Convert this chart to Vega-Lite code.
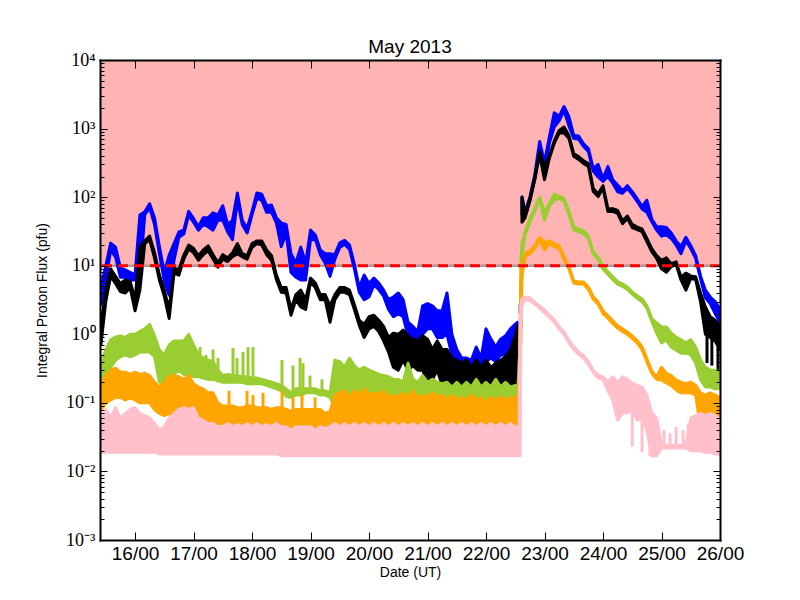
{
  "$schema": "https://vega.github.io/schema/vega-lite/v6.json",
  "width": 620,
  "height": 480,
  "autosize": {"type": "none"},
  "padding": {"left": 100, "top": 60, "right": 80, "bottom": 60},
  "background": "white",
  "title": {"text": "May 2013", "offset": -6},
  "datasets": {
    "ks": [
      {"t": "2013-05-25T18:40", "lo": 0.38, "hi": 1.5},
      {"t": "2013-05-25T20:40", "lo": 0.35, "hi": 1.3},
      {"t": "2013-05-25T23:10", "lo": 0.27, "hi": 1.0}
    ],
    "gs": [
      {"t": "2013-05-17T02:40", "lo": 0.24, "hi": 0.65},
      {"t": "2013-05-17T05:06", "lo": 0.23, "hi": 0.5},
      {"t": "2013-05-17T08:00", "lo": 0.22, "hi": 0.6},
      {"t": "2013-05-17T10:03", "lo": 0.21, "hi": 0.45},
      {"t": "2013-05-17T16:12", "lo": 0.2, "hi": 0.63},
      {"t": "2013-05-17T17:51", "lo": 0.2, "hi": 0.45},
      {"t": "2013-05-17T20:18", "lo": 0.2, "hi": 0.55},
      {"t": "2013-05-17T22:22", "lo": 0.19, "hi": 0.65},
      {"t": "2013-05-18T00:24", "lo": 0.19, "hi": 0.65},
      {"t": "2013-05-18T12:18", "lo": 0.15, "hi": 0.42},
      {"t": "2013-05-18T16:49", "lo": 0.12, "hi": 0.35},
      {"t": "2013-05-18T19:42", "lo": 0.13, "hi": 0.45},
      {"t": "2013-05-18T20:55", "lo": 0.13, "hi": 0.38},
      {"t": "2013-05-18T23:48", "lo": 0.14, "hi": 0.25},
      {"t": "2013-05-19T04:43", "lo": 0.13, "hi": 0.22}
    ],
    "os": [
      {"t": "2013-05-17T14:34", "lo": 0.085, "hi": 0.15},
      {"t": "2013-05-17T21:57", "lo": 0.085, "hi": 0.15},
      {"t": "2013-05-18T00:24", "lo": 0.085, "hi": 0.13},
      {"t": "2013-05-18T04:31", "lo": 0.08, "hi": 0.14},
      {"t": "2013-05-18T12:18", "lo": 0.08, "hi": 0.15},
      {"t": "2013-05-18T16:49", "lo": 0.075, "hi": 0.12},
      {"t": "2013-05-18T20:31", "lo": 0.075, "hi": 0.13},
      {"t": "2013-05-19T01:51", "lo": 0.075, "hi": 0.12}
    ],
    "ps": [
      {"t": "2013-05-24T12:00", "lo": 0.023, "hi": 0.1},
      {"t": "2013-05-24T16:00", "lo": 0.019, "hi": 0.1},
      {"t": "2013-05-24T19:15", "lo": 0.017, "hi": 0.07},
      {"t": "2013-05-24T21:20", "lo": 0.017, "hi": 0.05},
      {"t": "2013-05-25T01:00", "lo": 0.022, "hi": 0.04},
      {"t": "2013-05-25T03:30", "lo": 0.022, "hi": 0.036},
      {"t": "2013-05-25T06:00", "lo": 0.022, "hi": 0.045},
      {"t": "2013-05-25T08:50", "lo": 0.022, "hi": 0.04},
      {"t": "2013-05-25T10:54", "lo": 0.022, "hi": 0.05}
    ]
  },
  "data": {
    "values": [
      {"t": "2013-05-15T10:00", "b0": 2.7, "b1": 4.9, "k0": 0.7, "k1": 1.3, "g0": 0.1, "g1": 0.38, "o0": 0.079, "o1": 0.195, "p0": 0.019, "p1": 0.05},
      {"t": "2013-05-15T12:00", "b0": 6.2, "b1": 10, "k0": 3, "k1": 4.4, "g0": 0.15, "g1": 0.59, "o0": 0.1, "o1": 0.24, "p0": 0.019, "p1": 0.08},
      {"t": "2013-05-15T14:00", "b0": 16.9, "b1": 21.4, "k0": 7, "k1": 9, "g0": 0.33, "g1": 0.83, "o0": 0.11, "o1": 0.3, "p0": 0.019, "p1": 0.06},
      {"t": "2013-05-15T16:00", "b0": 13.4, "b1": 18.7, "k0": 5.5, "k1": 7, "g0": 0.42, "g1": 0.91, "o0": 0.12, "o1": 0.32, "p0": 0.019, "p1": 0.085},
      {"t": "2013-05-15T18:00", "b0": 6.8, "b1": 9.3, "k0": 4.2, "k1": 5.5, "g0": 0.47, "g1": 0.95, "o0": 0.12, "o1": 0.28, "p0": 0.019, "p1": 0.06},
      {"t": "2013-05-15T20:00", "b0": 6.8, "b1": 8.7, "k0": 4, "k1": 6.2, "g0": 0.5, "g1": 0.9, "o0": 0.11, "o1": 0.28, "p0": 0.019, "p1": 0.07},
      {"t": "2013-05-15T22:00", "b0": 6.2, "b1": 8, "k0": 4.8, "k1": 5.9, "g0": 0.47, "g1": 1.0, "o0": 0.12, "o1": 0.26, "p0": 0.019, "p1": 0.08},
      {"t": "2013-05-16T00:00", "b0": 6.2, "b1": 7.3, "k0": 2.2, "k1": 3.2, "g0": 0.5, "g1": 1.0, "o0": 0.11, "o1": 0.28, "p0": 0.019, "p1": 0.085},
      {"t": "2013-05-16T02:00", "b0": 7, "b1": 55, "k0": 4.4, "k1": 18.7, "g0": 0.55, "g1": 1.1, "o0": 0.1, "o1": 0.26, "p0": 0.019, "p1": 0.07},
      {"t": "2013-05-16T04:00", "b0": 55, "b1": 61, "k0": 21, "k1": 23, "g0": 0.55, "g1": 1.2, "o0": 0.1, "o1": 0.27, "p0": 0.019, "p1": 0.065},
      {"t": "2013-05-16T06:00", "b0": 70, "b1": 80, "k0": 24, "k1": 27, "g0": 0.55, "g1": 1.4, "o0": 0.1, "o1": 0.25, "p0": 0.019, "p1": 0.06},
      {"t": "2013-05-16T08:00", "b0": 40, "b1": 50, "k0": 13, "k1": 15.5, "g0": 0.47, "g1": 0.95, "o0": 0.08, "o1": 0.2, "p0": 0.019, "p1": 0.05},
      {"t": "2013-05-16T10:00", "b0": 15, "b1": 19, "k0": 6.2, "k1": 7.3, "g0": 0.2, "g1": 0.59, "o0": 0.07, "o1": 0.17, "p0": 0.018, "p1": 0.04},
      {"t": "2013-05-16T12:00", "b0": 6, "b1": 8, "k0": 3.6, "k1": 4.4, "g0": 0.2, "g1": 0.5, "o0": 0.065, "o1": 0.2, "p0": 0.018, "p1": 0.045},
      {"t": "2013-05-16T14:00", "b0": 3.7, "b1": 14.3, "k0": 1.7, "k1": 2.3, "g0": 0.22, "g1": 0.7, "o0": 0.07, "o1": 0.24, "p0": 0.018, "p1": 0.06},
      {"t": "2013-05-16T16:00", "b0": 12, "b1": 21, "k0": 7.8, "k1": 9.3, "g0": 0.26, "g1": 0.8, "o0": 0.06, "o1": 0.25, "p0": 0.018, "p1": 0.07},
      {"t": "2013-05-16T18:00", "b0": 26, "b1": 31, "k0": 7.3, "k1": 8.7, "g0": 0.3, "g1": 0.8, "o0": 0.06, "o1": 0.24, "p0": 0.018, "p1": 0.08},
      {"t": "2013-05-16T20:00", "b0": 29, "b1": 33, "k0": 12.5, "k1": 14.3, "g0": 0.26, "g1": 0.8, "o0": 0.055, "o1": 0.22, "p0": 0.018, "p1": 0.085},
      {"t": "2013-05-16T22:00", "b0": 55, "b1": 62, "k0": 17.5, "k1": 20, "g0": 0.26, "g1": 1.0, "o0": 0.055, "o1": 0.25, "p0": 0.018, "p1": 0.08},
      {"t": "2013-05-17T00:00", "b0": 43, "b1": 49, "k0": 15.5, "k1": 18, "g0": 0.24, "g1": 0.7, "o0": 0.055, "o1": 0.19, "p0": 0.018, "p1": 0.085},
      {"t": "2013-05-17T02:00", "b0": 33, "b1": 37, "k0": 12, "k1": 14, "g0": 0.24, "g1": 0.5, "o0": 0.05, "o1": 0.17, "p0": 0.018, "p1": 0.06},
      {"t": "2013-05-17T04:00", "b0": 40, "b1": 50, "k0": 14.5, "k1": 17, "g0": 0.23, "g1": 0.45, "o0": 0.05, "o1": 0.16, "p0": 0.018, "p1": 0.055},
      {"t": "2013-05-17T06:00", "b0": 37, "b1": 50, "k0": 16.5, "k1": 19.5, "g0": 0.22, "g1": 0.42, "o0": 0.05, "o1": 0.14, "p0": 0.018, "p1": 0.05},
      {"t": "2013-05-17T08:00", "b0": 33, "b1": 59, "k0": 12.5, "k1": 14.5, "g0": 0.22, "g1": 0.4, "o0": 0.05, "o1": 0.14, "p0": 0.018, "p1": 0.05},
      {"t": "2013-05-17T10:00", "b0": 46, "b1": 55, "k0": 9.5, "k1": 11, "g0": 0.21, "g1": 0.3, "o0": 0.05, "o1": 0.1, "p0": 0.018, "p1": 0.045},
      {"t": "2013-05-17T12:00", "b0": 46, "b1": 75, "k0": 12.5, "k1": 14.5, "g0": 0.2, "g1": 0.25, "o0": 0.05, "o1": 0.09, "p0": 0.018, "p1": 0.045},
      {"t": "2013-05-17T14:00", "b0": 31, "b1": 40, "k0": 11.5, "k1": 13, "g0": 0.2, "g1": 0.26, "o0": 0.05, "o1": 0.09, "p0": 0.018, "p1": 0.05},
      {"t": "2013-05-17T16:00", "b0": 24, "b1": 46, "k0": 13.5, "k1": 15.5, "g0": 0.2, "g1": 0.25, "o0": 0.05, "o1": 0.09, "p0": 0.018, "p1": 0.045},
      {"t": "2013-05-17T18:00", "b0": 90, "b1": 115, "k0": 15, "k1": 21, "g0": 0.2, "g1": 0.25, "o0": 0.05, "o1": 0.085, "p0": 0.018, "p1": 0.048},
      {"t": "2013-05-17T20:00", "b0": 40, "b1": 46, "k0": 13.5, "k1": 15, "g0": 0.2, "g1": 0.24, "o0": 0.05, "o1": 0.085, "p0": 0.018, "p1": 0.045},
      {"t": "2013-05-17T22:00", "b0": 30, "b1": 35, "k0": 12.5, "k1": 14, "g0": 0.19, "g1": 0.24, "o0": 0.05, "o1": 0.09, "p0": 0.018, "p1": 0.05},
      {"t": "2013-05-18T00:00", "b0": 55, "b1": 62, "k0": 18.5, "k1": 21, "g0": 0.19, "g1": 0.23, "o0": 0.05, "o1": 0.09, "p0": 0.018, "p1": 0.045},
      {"t": "2013-05-18T02:00", "b0": 97, "b1": 115, "k0": 21, "k1": 23, "g0": 0.19, "g1": 0.23, "o0": 0.048, "o1": 0.085, "p0": 0.018, "p1": 0.05},
      {"t": "2013-05-18T04:00", "b0": 90, "b1": 110, "k0": 20, "k1": 23, "g0": 0.19, "g1": 0.22, "o0": 0.048, "o1": 0.085, "p0": 0.018, "p1": 0.045},
      {"t": "2013-05-18T06:00", "b0": 60, "b1": 75, "k0": 14.5, "k1": 17, "g0": 0.18, "g1": 0.21, "o0": 0.048, "o1": 0.085, "p0": 0.018, "p1": 0.048},
      {"t": "2013-05-18T08:00", "b0": 60, "b1": 77, "k0": 12, "k1": 14, "g0": 0.17, "g1": 0.2, "o0": 0.047, "o1": 0.08, "p0": 0.018, "p1": 0.045},
      {"t": "2013-05-18T10:00", "b0": 42, "b1": 50, "k0": 6.3, "k1": 7.3, "g0": 0.16, "g1": 0.19, "o0": 0.047, "o1": 0.085, "p0": 0.018, "p1": 0.05},
      {"t": "2013-05-18T12:00", "b0": 19, "b1": 42, "k0": 4.1, "k1": 4.8, "g0": 0.15, "g1": 0.18, "o0": 0.045, "o1": 0.085, "p0": 0.017, "p1": 0.045},
      {"t": "2013-05-18T14:00", "b0": 30, "b1": 40, "k0": 4, "k1": 4.8, "g0": 0.125, "g1": 0.16, "o0": 0.042, "o1": 0.08, "p0": 0.017, "p1": 0.045},
      {"t": "2013-05-18T16:00", "b0": 8, "b1": 15, "k0": 1.9, "k1": 2.3, "g0": 0.12, "g1": 0.14, "o0": 0.042, "o1": 0.075, "p0": 0.017, "p1": 0.04},
      {"t": "2013-05-18T18:00", "b0": 6.8, "b1": 11, "k0": 3.2, "k1": 3.8, "g0": 0.13, "g1": 0.16, "o0": 0.045, "o1": 0.08, "p0": 0.017, "p1": 0.045},
      {"t": "2013-05-18T20:00", "b0": 6.2, "b1": 18.7, "k0": 2.5, "k1": 4.4, "g0": 0.13, "g1": 0.16, "o0": 0.045, "o1": 0.08, "p0": 0.017, "p1": 0.045},
      {"t": "2013-05-18T22:00", "b0": 6.2, "b1": 11, "k0": 2.3, "k1": 3.2, "g0": 0.14, "g1": 0.16, "o0": 0.045, "o1": 0.08, "p0": 0.017, "p1": 0.045},
      {"t": "2013-05-19T00:00", "b0": 24, "b1": 33, "k0": 5.8, "k1": 6.6, "g0": 0.14, "g1": 0.16, "o0": 0.045, "o1": 0.08, "p0": 0.017, "p1": 0.045},
      {"t": "2013-05-19T02:00", "b0": 24, "b1": 28, "k0": 4.8, "k1": 5.6, "g0": 0.14, "g1": 0.16, "o0": 0.045, "o1": 0.08, "p0": 0.017, "p1": 0.04},
      {"t": "2013-05-19T04:00", "b0": 14.5, "b1": 17, "k0": 3.2, "k1": 3.8, "g0": 0.13, "g1": 0.15, "o0": 0.045, "o1": 0.08, "p0": 0.017, "p1": 0.045},
      {"t": "2013-05-19T06:00", "b0": 11, "b1": 15, "k0": 3.2, "k1": 3.8, "g0": 0.13, "g1": 0.15, "o0": 0.045, "o1": 0.07, "p0": 0.017, "p1": 0.042},
      {"t": "2013-05-19T08:00", "b0": 7, "b1": 15, "k0": 1.5, "k1": 2.6, "g0": 0.12, "g1": 0.14, "o0": 0.042, "o1": 0.075, "p0": 0.017, "p1": 0.045},
      {"t": "2013-05-19T10:00", "b0": 12.5, "b1": 14.5, "k0": 3.2, "k1": 3.8, "g0": 0.087, "g1": 0.42, "o0": 0.04, "o1": 0.13, "p0": 0.017, "p1": 0.05},
      {"t": "2013-05-19T12:00", "b0": 18.5, "b1": 21.5, "k0": 4.1, "k1": 4.8, "g0": 0.11, "g1": 0.4, "o0": 0.04, "o1": 0.14, "p0": 0.017, "p1": 0.045},
      {"t": "2013-05-19T14:00", "b0": 20.5, "b1": 23.5, "k0": 4.1, "k1": 4.8, "g0": 0.11, "g1": 0.33, "o0": 0.042, "o1": 0.15, "p0": 0.017, "p1": 0.05},
      {"t": "2013-05-19T16:00", "b0": 17.5, "b1": 20, "k0": 3.8, "k1": 4.4, "g0": 0.12, "g1": 0.45, "o0": 0.04, "o1": 0.12, "p0": 0.017, "p1": 0.045},
      {"t": "2013-05-19T18:00", "b0": 9, "b1": 10.5, "k0": 2.3, "k1": 2.7, "g0": 0.11, "g1": 0.35, "o0": 0.042, "o1": 0.15, "p0": 0.017, "p1": 0.05},
      {"t": "2013-05-19T20:00", "b0": 4.1, "b1": 4.8, "k0": 1.35, "k1": 1.6, "g0": 0.11, "g1": 0.3, "o0": 0.04, "o1": 0.13, "p0": 0.017, "p1": 0.045},
      {"t": "2013-05-19T22:00", "b0": 3.2, "b1": 7.3, "k0": 0.9, "k1": 1.4, "g0": 0.1, "g1": 0.33, "o0": 0.04, "o1": 0.16, "p0": 0.017, "p1": 0.05},
      {"t": "2013-05-20T00:00", "b0": 3.5, "b1": 5.5, "k0": 1.2, "k1": 1.8, "g0": 0.11, "g1": 0.3, "o0": 0.04, "o1": 0.13, "p0": 0.017, "p1": 0.045},
      {"t": "2013-05-20T02:00", "b0": 5.2, "b1": 6.6, "k0": 1.3, "k1": 1.9, "g0": 0.11, "g1": 0.28, "o0": 0.042, "o1": 0.14, "p0": 0.017, "p1": 0.05},
      {"t": "2013-05-20T04:00", "b0": 4.5, "b1": 5.6, "k0": 1.1, "k1": 1.6, "g0": 0.1, "g1": 0.26, "o0": 0.04, "o1": 0.13, "p0": 0.017, "p1": 0.045},
      {"t": "2013-05-20T06:00", "b0": 3.6, "b1": 4.4, "k0": 0.8, "k1": 1.3, "g0": 0.1, "g1": 0.25, "o0": 0.04, "o1": 0.15, "p0": 0.017, "p1": 0.05},
      {"t": "2013-05-20T08:00", "b0": 2.3, "b1": 3.2, "k0": 0.55, "k1": 0.9, "g0": 0.1, "g1": 0.24, "o0": 0.04, "o1": 0.12, "p0": 0.017, "p1": 0.045},
      {"t": "2013-05-20T10:00", "b0": 1.8, "b1": 3.5, "k0": 0.33, "k1": 1.04, "g0": 0.1, "g1": 0.22, "o0": 0.038, "o1": 0.13, "p0": 0.017, "p1": 0.05},
      {"t": "2013-05-20T12:00", "b0": 2, "b1": 4, "k0": 0.3, "k1": 1.0, "g0": 0.1, "g1": 0.22, "o0": 0.04, "o1": 0.12, "p0": 0.017, "p1": 0.045},
      {"t": "2013-05-20T14:00", "b0": 1.8, "b1": 3.2, "k0": 0.42, "k1": 1.15, "g0": 0.09, "g1": 0.2, "o0": 0.04, "o1": 0.14, "p0": 0.017, "p1": 0.05},
      {"t": "2013-05-20T16:00", "b0": 0.95, "b1": 1.5, "k0": 0.3, "k1": 0.95, "g0": 0.09, "g1": 0.38, "o0": 0.038, "o1": 0.12, "p0": 0.017, "p1": 0.045},
      {"t": "2013-05-20T18:00", "b0": 0.8, "b1": 1.3, "k0": 0.35, "k1": 0.85, "g0": 0.09, "g1": 0.22, "o0": 0.04, "o1": 0.15, "p0": 0.017, "p1": 0.05},
      {"t": "2013-05-20T20:00", "b0": 0.8, "b1": 1.1, "k0": 0.3, "k1": 0.8, "g0": 0.09, "g1": 0.2, "o0": 0.038, "o1": 0.12, "p0": 0.017, "p1": 0.045},
      {"t": "2013-05-20T22:00", "b0": 1.0, "b1": 2.6, "k0": 0.3, "k1": 0.95, "g0": 0.09, "g1": 0.25, "o0": 0.04, "o1": 0.13, "p0": 0.017, "p1": 0.05},
      {"t": "2013-05-21T00:00", "b0": 1.2, "b1": 2.8, "k0": 0.2, "k1": 0.85, "g0": 0.09, "g1": 0.2, "o0": 0.038, "o1": 0.12, "p0": 0.017, "p1": 0.045},
      {"t": "2013-05-21T02:00", "b0": 1.2, "b1": 2.6, "k0": 0.22, "k1": 0.6, "g0": 0.09, "g1": 0.22, "o0": 0.038, "o1": 0.14, "p0": 0.017, "p1": 0.05},
      {"t": "2013-05-21T04:00", "b0": 0.9, "b1": 2.2, "k0": 0.3, "k1": 0.8, "g0": 0.08, "g1": 0.2, "o0": 0.036, "o1": 0.12, "p0": 0.017, "p1": 0.045},
      {"t": "2013-05-21T06:00", "b0": 0.9, "b1": 2.2, "k0": 0.18, "k1": 0.6, "g0": 0.08, "g1": 0.19, "o0": 0.038, "o1": 0.13, "p0": 0.017, "p1": 0.05},
      {"t": "2013-05-21T08:00", "b0": 1.0, "b1": 4.0, "k0": 0.22, "k1": 0.6, "g0": 0.08, "g1": 0.2, "o0": 0.036, "o1": 0.11, "p0": 0.017, "p1": 0.045},
      {"t": "2013-05-21T10:00", "b0": 0.5, "b1": 1.0, "k0": 0.17, "k1": 0.45, "g0": 0.087, "g1": 0.17, "o0": 0.038, "o1": 0.13, "p0": 0.017, "p1": 0.05},
      {"t": "2013-05-21T12:00", "b0": 0.4, "b1": 0.6, "k0": 0.14, "k1": 0.42, "g0": 0.085, "g1": 0.2, "o0": 0.036, "o1": 0.11, "p0": 0.017, "p1": 0.045},
      {"t": "2013-05-21T14:00", "b0": 0.35, "b1": 0.45, "k0": 0.12, "k1": 0.38, "g0": 0.085, "g1": 0.17, "o0": 0.038, "o1": 0.12, "p0": 0.017, "p1": 0.05},
      {"t": "2013-05-21T16:00", "b0": 0.35, "b1": 0.45, "k0": 0.12, "k1": 0.42, "g0": 0.085, "g1": 0.2, "o0": 0.036, "o1": 0.11, "p0": 0.017, "p1": 0.045},
      {"t": "2013-05-21T18:00", "b0": 0.3, "b1": 0.42, "k0": 0.12, "k1": 0.33, "g0": 0.085, "g1": 0.17, "o0": 0.036, "o1": 0.13, "p0": 0.017, "p1": 0.05},
      {"t": "2013-05-21T20:00", "b0": 0.35, "b1": 0.65, "k0": 0.14, "k1": 0.42, "g0": 0.085, "g1": 0.22, "o0": 0.036, "o1": 0.11, "p0": 0.017, "p1": 0.045},
      {"t": "2013-05-21T22:00", "b0": 0.3, "b1": 0.45, "k0": 0.12, "k1": 0.33, "g0": 0.085, "g1": 0.17, "o0": 0.036, "o1": 0.12, "p0": 0.017, "p1": 0.05},
      {"t": "2013-05-22T00:00", "b0": 0.4, "b1": 1.2, "k0": 0.13, "k1": 0.42, "g0": 0.085, "g1": 0.2, "o0": 0.036, "o1": 0.1, "p0": 0.017, "p1": 0.045},
      {"t": "2013-05-22T02:00", "b0": 0.45, "b1": 0.85, "k0": 0.11, "k1": 0.33, "g0": 0.085, "g1": 0.17, "o0": 0.036, "o1": 0.12, "p0": 0.017, "p1": 0.05},
      {"t": "2013-05-22T04:00", "b0": 0.4, "b1": 0.65, "k0": 0.12, "k1": 0.38, "g0": 0.085, "g1": 0.22, "o0": 0.036, "o1": 0.11, "p0": 0.017, "p1": 0.045},
      {"t": "2013-05-22T06:00", "b0": 0.5, "b1": 0.85, "k0": 0.13, "k1": 0.42, "g0": 0.085, "g1": 0.17, "o0": 0.036, "o1": 0.12, "p0": 0.017, "p1": 0.05},
      {"t": "2013-05-22T08:00", "b0": 0.5, "b1": 0.95, "k0": 0.13, "k1": 0.47, "g0": 0.085, "g1": 0.2, "o0": 0.036, "o1": 0.11, "p0": 0.017, "p1": 0.045},
      {"t": "2013-05-22T10:00", "b0": 0.55, "b1": 1.2, "k0": 0.14, "k1": 0.59, "g0": 0.085, "g1": 0.17, "o0": 0.036, "o1": 0.12, "p0": 0.017, "p1": 0.05},
      {"t": "2013-05-22T12:00", "b0": 0.6, "b1": 1.4, "k0": 0.13, "k1": 0.95, "g0": 0.09, "g1": 0.18, "o0": 0.038, "o1": 0.12, "p0": 0.017, "p1": 0.045},
      {"t": "2013-05-22T13:00", "b0": 0.8, "b1": 1.5, "k0": 0.59, "k1": 1.36, "g0": 0.1, "g1": 0.16, "o0": 0.05, "o1": 0.1, "p0": 0.017, "p1": 0.04},
      {"t": "2013-05-22T13:30", "b0": null, "b1": null, "k0": null, "k1": null, "g0": 0.12, "g1": 0.3, "o0": 0.06, "o1": 0.2, "p0": 0.017, "p1": 0.04},
      {"t": "2013-05-22T14:00", "b0": 2.05, "b1": 2.67, "k0": null, "k1": null, "g0": 0.5, "g1": 0.8, "o0": 0.4, "o1": 1.4, "p0": 0.017, "p1": 1.5},
      {"t": "2013-05-22T14:20", "b0": null, "b1": null, "k0": null, "k1": null, "g0": 0.8, "g1": 12, "o0": 1.4, "o1": 7, "p0": 1.5, "p1": 2.6},
      {"t": "2013-05-22T14:45", "b0": 55, "b1": 100, "k0": 43, "k1": 100, "g0": 14, "g1": 21, "o0": 7, "o1": 10, "p0": 2.6, "p1": 3.3},
      {"t": "2013-05-22T16:00", "b0": 52, "b1": 60, "k0": 50, "k1": 59, "g0": 28, "g1": 31, "o0": 13.5, "o1": 15, "p0": 3.2, "p1": 3.5},
      {"t": "2013-05-22T18:00", "b0": 90, "b1": 100, "k0": 88, "k1": 95, "g0": 43, "g1": 49, "o0": 15, "o1": 16.5, "p0": 3.1, "p1": 3.4},
      {"t": "2013-05-22T20:00", "b0": 185, "b1": 210, "k0": 180, "k1": 200, "g0": 62, "g1": 68, "o0": 18, "o1": 19.5, "p0": 2.75, "p1": 2.95},
      {"t": "2013-05-22T22:00", "b0": 550, "b1": 650, "k0": 420, "k1": 460, "g0": 93, "g1": 100, "o0": 24, "o1": 26, "p0": 2.4, "p1": 2.6},
      {"t": "2013-05-23T00:00", "b0": 232, "b1": 320, "k0": 180, "k1": 280, "g0": 46, "g1": 60, "o0": 17, "o1": 22, "p0": 2.05, "p1": 2.25},
      {"t": "2013-05-23T02:00", "b0": 620, "b1": 760, "k0": 370, "k1": 400, "g0": 74, "g1": 80, "o0": 21, "o1": 23, "p0": 1.78, "p1": 1.92},
      {"t": "2013-05-23T04:00", "b0": 1054, "b1": 1700, "k0": 610, "k1": 660, "g0": 90, "g1": 110, "o0": 19, "o1": 21, "p0": 1.5, "p1": 1.62},
      {"t": "2013-05-23T06:00", "b0": 1300, "b1": 1500, "k0": 860, "k1": 940, "g0": 96, "g1": 104, "o0": 18, "o1": 19.5, "p0": 1.19, "p1": 1.29},
      {"t": "2013-05-23T08:00", "b0": 1850, "b1": 2100, "k0": 860, "k1": 1054, "g0": 87, "g1": 95, "o0": 12.4, "o1": 13.4, "p0": 1.0, "p1": 1.08},
      {"t": "2013-05-23T10:00", "b0": 1100, "b1": 1500, "k0": 720, "k1": 790, "g0": 56, "g1": 62, "o0": 9, "o1": 9.7, "p0": 0.75, "p1": 0.81},
      {"t": "2013-05-23T12:00", "b0": 720, "b1": 790, "k0": 395, "k1": 430, "g0": 33, "g1": 37, "o0": 5.6, "o1": 6, "p0": 0.6, "p1": 0.66},
      {"t": "2013-05-23T14:00", "b0": 700, "b1": 780, "k0": 355, "k1": 390, "g0": 31.5, "g1": 34.5, "o0": 5.4, "o1": 5.8, "p0": 0.51, "p1": 0.55},
      {"t": "2013-05-23T16:00", "b0": 550, "b1": 600, "k0": 310, "k1": 340, "g0": 29.5, "g1": 32.5, "o0": 5.4, "o1": 5.8, "p0": 0.45, "p1": 0.49},
      {"t": "2013-05-23T18:00", "b0": 465, "b1": 510, "k0": 280, "k1": 310, "g0": 25, "g1": 27, "o0": 4.5, "o1": 4.9, "p0": 0.36, "p1": 0.4},
      {"t": "2013-05-23T20:00", "b0": 240, "b1": 260, "k0": 121, "k1": 133, "g0": 14.7, "g1": 16, "o0": 3.25, "o1": 3.55, "p0": 0.28, "p1": 0.3},
      {"t": "2013-05-23T22:00", "b0": 197, "b1": 300, "k0": 102, "k1": 112, "g0": 12.4, "g1": 13.4, "o0": 2.75, "o1": 2.95, "p0": 0.23, "p1": 0.25},
      {"t": "2013-05-24T00:00", "b0": 170, "b1": 186, "k0": 135, "k1": 147, "g0": 8.9, "g1": 9.7, "o0": 2.0, "o1": 2.2, "p0": 0.22, "p1": 0.24},
      {"t": "2013-05-24T02:00", "b0": 200, "b1": 280, "k0": 62, "k1": 68, "g0": 7.5, "g1": 8.2, "o0": 1.72, "o1": 1.88, "p0": 0.15, "p1": 0.2},
      {"t": "2013-05-24T04:00", "b0": 160, "b1": 180, "k0": 62, "k1": 68, "g0": 6.3, "g1": 6.9, "o0": 1.44, "o1": 1.57, "p0": 0.11, "p1": 0.24},
      {"t": "2013-05-24T06:00", "b0": 120, "b1": 150, "k0": 58, "k1": 64, "g0": 5.4, "g1": 5.85, "o0": 1.23, "o1": 1.33, "p0": 0.056, "p1": 0.195},
      {"t": "2013-05-24T08:00", "b0": 114, "b1": 124, "k0": 41, "k1": 45, "g0": 5.0, "g1": 5.45, "o0": 1.1, "o1": 1.2, "p0": 0.071, "p1": 0.24},
      {"t": "2013-05-24T10:00", "b0": 135, "b1": 147, "k0": 49, "k1": 53, "g0": 4.5, "g1": 4.9, "o0": 1.0, "o1": 1.08, "p0": 0.071, "p1": 0.22},
      {"t": "2013-05-24T12:00", "b0": 110, "b1": 120, "k0": 36, "k1": 40, "g0": 3.85, "g1": 4.15, "o0": 0.87, "o1": 0.95, "p0": 0.08, "p1": 0.195},
      {"t": "2013-05-24T14:00", "b0": 87, "b1": 95, "k0": 33.5, "k1": 36.5, "g0": 3.35, "g1": 3.65, "o0": 0.75, "o1": 0.81, "p0": 0.056, "p1": 0.18},
      {"t": "2013-05-24T16:00", "b0": 67, "b1": 73, "k0": 31.5, "k1": 34.5, "g0": 3.0, "g1": 3.3, "o0": 0.6, "o1": 0.66, "p0": 0.06, "p1": 0.17},
      {"t": "2013-05-24T18:00", "b0": 60, "b1": 90, "k0": 22.5, "k1": 25, "g0": 2.4, "g1": 2.6, "o0": 0.4, "o1": 0.44, "p0": 0.04, "p1": 0.13},
      {"t": "2013-05-24T20:00", "b0": 44, "b1": 48, "k0": 16, "k1": 17.8, "g0": 1.55, "g1": 1.7, "o0": 0.27, "o1": 0.29, "p0": 0.017, "p1": 0.071},
      {"t": "2013-05-24T22:00", "b0": 33, "b1": 37, "k0": 12.8, "k1": 14, "g0": 1.04, "g1": 1.46, "o0": 0.22, "o1": 0.24, "p0": 0.017, "p1": 0.06},
      {"t": "2013-05-25T00:00", "b0": 27, "b1": 37, "k0": 9, "k1": 12, "g0": 0.75, "g1": 1.28, "o0": 0.215, "o1": 0.33, "p0": 0.022, "p1": 0.024},
      {"t": "2013-05-25T02:00", "b0": 28, "b1": 36, "k0": 8, "k1": 13, "g0": 0.83, "g1": 1.28, "o0": 0.195, "o1": 0.27, "p0": 0.022, "p1": 0.024},
      {"t": "2013-05-25T04:00", "b0": 25, "b1": 30, "k0": 9.7, "k1": 10.7, "g0": 0.65, "g1": 1.04, "o0": 0.18, "o1": 0.25, "p0": 0.022, "p1": 0.024},
      {"t": "2013-05-25T06:00", "b0": 20, "b1": 23, "k0": 10.4, "k1": 11.4, "g0": 0.59, "g1": 0.91, "o0": 0.154, "o1": 0.215, "p0": 0.022, "p1": 0.024},
      {"t": "2013-05-25T08:00", "b0": 15, "b1": 19, "k0": 6.2, "k1": 6.8, "g0": 0.53, "g1": 0.83, "o0": 0.14, "o1": 0.2, "p0": 0.022, "p1": 0.024},
      {"t": "2013-05-25T10:00", "b0": 23, "b1": 26, "k0": 4.4, "k1": 7.8, "g0": 0.53, "g1": 0.75, "o0": 0.14, "o1": 0.19, "p0": 0.022, "p1": 0.024},
      {"t": "2013-05-25T12:00", "b0": 17.8, "b1": 19.6, "k0": 6.5, "k1": 7.1, "g0": 0.5, "g1": 0.83, "o0": 0.14, "o1": 0.2, "p0": 0.02, "p1": 0.06},
      {"t": "2013-05-25T14:00", "b0": 12.8, "b1": 14, "k0": 6.3, "k1": 6.9, "g0": 0.38, "g1": 0.65, "o0": 0.13, "o1": 0.18, "p0": 0.02, "p1": 0.065},
      {"t": "2013-05-25T16:00", "b0": 6.5, "b1": 7.1, "k0": 3.0, "k1": 4.0, "g0": 0.22, "g1": 0.42, "o0": 0.045, "o1": 0.14, "p0": 0.02, "p1": 0.07},
      {"t": "2013-05-25T18:00", "b0": 3.4, "b1": 4.4, "k0": 1.0, "k1": 2.5, "g0": 0.17, "g1": 0.33, "o0": 0.05, "o1": 0.13, "p0": 0.019, "p1": 0.065},
      {"t": "2013-05-25T20:00", "b0": 2.8, "b1": 3.5, "k0": 0.9, "k1": 1.8, "g0": 0.17, "g1": 0.3, "o0": 0.055, "o1": 0.14, "p0": 0.019, "p1": 0.07},
      {"t": "2013-05-25T22:00", "b0": 2.0, "b1": 3.0, "k0": 0.8, "k1": 1.6, "g0": 0.16, "g1": 0.3, "o0": 0.055, "o1": 0.13, "p0": 0.018, "p1": 0.065},
      {"t": "2013-05-26T00:00", "b0": 1.5, "b1": 2.3, "k0": 0.6, "k1": 1.3, "g0": 0.16, "g1": 0.28, "o0": 0.055, "o1": 0.12, "p0": 0.018, "p1": 0.06}
    ]
  },
  "layer": [
    {
      "data": {"values": [{}]},
      "mark": {"type": "rect", "color": "#ffb3b3"},
      "encoding": {
        "y": {
          "datum": 10000,
          "type": "quantitative",
          "scale": {"type": "log", "domain": [0.001, 10000], "nice": false},
          "axis": {
            "orient": "left",
            "zindex": 1,
            "values": [0.001,0.002,0.003,0.004,0.005,0.006,0.007,0.008,0.009,0.01,0.02,0.03,0.04,0.05,0.06,0.07,0.08,0.09,0.1,0.2,0.3,0.4,0.5,0.6,0.7,0.8,0.9,1,2,3,4,5,6,7,8,9,10,20,30,40,50,60,70,80,90,100,200,300,400,500,600,700,800,900,1000,2000,3000,4000,5000,6000,7000,8000,9000,10000],
            "labelExpr": "indexof([0.001,0.01,0.1,1,10,100,1000,10000], datum.value) >= 0 ? ['10⁻³','10⁻²','10⁻¹','10⁰','10¹','10²','10³','10⁴'][indexof([0.001,0.01,0.1,1,10,100,1000,10000], datum.value)] : ''",
            "labelFont": "Liberation Serif",
            "labelFontSize": 18,
            "labelPadding": 12,
            "tickSize": {"condition": {"test": "indexof([0.001,0.01,0.1,1,10,100,1000,10000], datum.value) >= 0", "value": -7}, "value": -4},
            "title": "Integral Proton Flux (pfu)",
            "titlePadding": 16
          }
        },
        "y2": {"datum": 10}
      }
    },
    {
      "data": {"values": [{}]},
      "mark": {"type": "rule", "color": "#a0a0a0", "strokeWidth": 2.5},
      "encoding": {
        "y": {
          "datum": 10,
          "type": "quantitative",
          "scale": {"type": "log", "domain": [0.001, 10000], "nice": false},
          "axis": {
            "orient": "right",
            "zindex": 1,
            "values": [0.001,0.002,0.003,0.004,0.005,0.006,0.007,0.008,0.009,0.01,0.02,0.03,0.04,0.05,0.06,0.07,0.08,0.09,0.1,0.2,0.3,0.4,0.5,0.6,0.7,0.8,0.9,1,2,3,4,5,6,7,8,9,10,20,30,40,50,60,70,80,90,100,200,300,400,500,600,700,800,900,1000,2000,3000,4000,5000,6000,7000,8000,9000,10000],
            "labels": false,
            "tickSize": {"condition": {"test": "indexof([0.001,0.01,0.1,1,10,100,1000,10000], datum.value) >= 0", "value": -7}, "value": -4},
            "title": null
          }
        }
      }
    },
    {
      "mark": {"type": "area", "color": "blue", "stroke": "blue", "strokeWidth": 3, "strokeJoin": "round", "clip": true},
      "encoding": {
        "x": {
          "field": "t",
          "type": "temporal",
          "scale": {"domain": [{"year": 2013, "month": 5, "date": 15, "hours": 9, "minutes": 38}, {"year": 2013, "month": 5, "date": 26}], "nice": false},
          "axis": {
            "orient": "bottom",
            "zindex": 1,
            "values": [{"year": 2013, "month": 5, "date": 16}, {"year": 2013, "month": 5, "date": 17}, {"year": 2013, "month": 5, "date": 18}, {"year": 2013, "month": 5, "date": 19}, {"year": 2013, "month": 5, "date": 20}, {"year": 2013, "month": 5, "date": 21}, {"year": 2013, "month": 5, "date": 22}, {"year": 2013, "month": 5, "date": 23}, {"year": 2013, "month": 5, "date": 24}, {"year": 2013, "month": 5, "date": 25}, {"year": 2013, "month": 5, "date": 26}],
            "format": "%d/%H",
            "labelFontSize": 19,
            "labelPadding": 12,
            "tickSize": -8,
            "title": "Date (UT)",
            "titlePadding": 2
          }
        },
        "y": {"field": "b0", "type": "quantitative", "scale": {"type": "log", "domain": [0.001, 10000], "nice": false}, "axis": null},
        "y2": {"field": "b1"}
      }
    },
    {
      "mark": {"type": "area", "color": "black", "stroke": "black", "strokeWidth": 3, "strokeJoin": "round", "clip": true},
      "encoding": {
        "x": {
          "field": "t",
          "type": "temporal",
          "axis": {
            "orient": "top",
            "zindex": 1,
            "values": [{"year": 2013, "month": 5, "date": 16}, {"year": 2013, "month": 5, "date": 17}, {"year": 2013, "month": 5, "date": 18}, {"year": 2013, "month": 5, "date": 19}, {"year": 2013, "month": 5, "date": 20}, {"year": 2013, "month": 5, "date": 21}, {"year": 2013, "month": 5, "date": 22}, {"year": 2013, "month": 5, "date": 23}, {"year": 2013, "month": 5, "date": 24}, {"year": 2013, "month": 5, "date": 25}, {"year": 2013, "month": 5, "date": 26}],
            "labels": false,
            "tickSize": -8,
            "title": null
          }
        },
        "y": {"field": "k0", "type": "quantitative", "axis": null},
        "y2": {"field": "k1"}
      }
    },
    {
      "data": {"name": "ks"},
      "mark": {"type": "rule", "color": "black", "strokeWidth": 3, "clip": true},
      "encoding": {
        "x": {"field": "t", "type": "temporal", "axis": null},
        "y": {"field": "lo", "type": "quantitative", "axis": null},
        "y2": {"field": "hi"}
      }
    },
    {
      "mark": {"type": "area", "color": "#9acd32", "stroke": "#9acd32", "strokeWidth": 3, "strokeJoin": "round", "clip": true},
      "encoding": {
        "x": {"field": "t", "type": "temporal", "axis": null},
        "y": {"field": "g0", "type": "quantitative", "axis": null},
        "y2": {"field": "g1"}
      }
    },
    {
      "data": {"name": "gs"},
      "mark": {"type": "rule", "color": "#9acd32", "strokeWidth": 3, "clip": true},
      "encoding": {
        "x": {"field": "t", "type": "temporal", "axis": null},
        "y": {"field": "lo", "type": "quantitative", "axis": null},
        "y2": {"field": "hi"}
      }
    },
    {
      "mark": {"type": "area", "color": "#ffa500", "stroke": "#ffa500", "strokeWidth": 3, "strokeJoin": "round", "clip": true},
      "encoding": {
        "x": {"field": "t", "type": "temporal", "axis": null},
        "y": {"field": "o0", "type": "quantitative", "axis": null},
        "y2": {"field": "o1"}
      }
    },
    {
      "data": {"name": "os"},
      "mark": {"type": "rule", "color": "#ffa500", "strokeWidth": 3, "clip": true},
      "encoding": {
        "x": {"field": "t", "type": "temporal", "axis": null},
        "y": {"field": "lo", "type": "quantitative", "axis": null},
        "y2": {"field": "hi"}
      }
    },
    {
      "mark": {"type": "area", "color": "#ffc0cb", "stroke": "#ffc0cb", "strokeWidth": 3, "strokeJoin": "round", "clip": true},
      "encoding": {
        "x": {"field": "t", "type": "temporal", "axis": null},
        "y": {"field": "p0", "type": "quantitative", "axis": null},
        "y2": {"field": "p1"}
      }
    },
    {
      "data": {"name": "ps"},
      "mark": {"type": "rule", "color": "#ffc0cb", "strokeWidth": 3, "clip": true},
      "encoding": {
        "x": {"field": "t", "type": "temporal", "axis": null},
        "y": {"field": "lo", "type": "quantitative", "axis": null},
        "y2": {"field": "hi"}
      }
    },
    {
      "data": {"values": [{}]},
      "mark": {"type": "rule", "color": "red", "strokeWidth": 3, "strokeDash": [10, 6]},
      "encoding": {
        "y": {"datum": 10, "type": "quantitative", "axis": null}
      }
    }
  ],
  "resolve": {"axis": {"x": "independent", "y": "independent"}},
  "config": {
    "view": {"stroke": null},
    "axis": {
      "grid": false,
      "domain": true,
      "domainColor": "black",
      "domainWidth": 2,
      "domainCap": "square",
      "tickColor": "black",
      "tickWidth": 1,
      "labelColor": "black",
      "labelFont": "Liberation Sans",
      "labelOverlap": false,
      "labelFlush": false,
      "titleColor": "black",
      "titleFont": "Liberation Sans",
      "titleFontSize": 14,
      "titleFontWeight": "normal"
    },
    "title": {"font": "Liberation Sans", "fontSize": 19, "fontWeight": "normal", "color": "black"}
  }
}
